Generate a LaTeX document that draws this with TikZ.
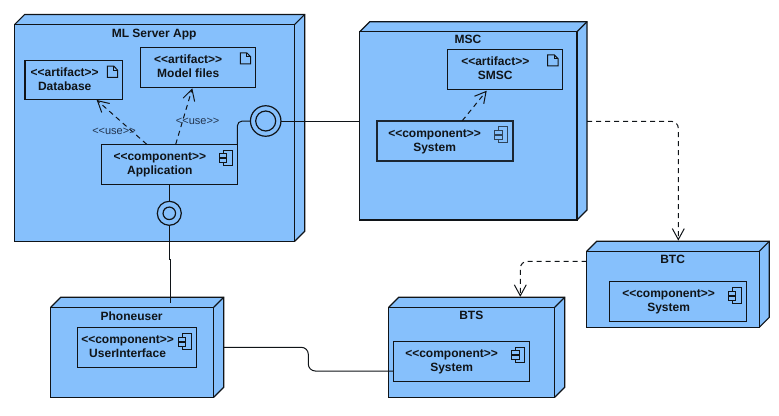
\documentclass[tikz,border=0pt]{standalone}
\usepackage{fontspec}
\setmainfont{Liberation Sans}
\usetikzlibrary{arrows.meta}
\definecolor{nodeblue}{HTML}{86C0FC}
\definecolor{ink}{HTML}{101418}
\definecolor{usecol}{HTML}{22344E}
\tikzset{
  every node/.style={inner sep=0pt,outer sep=0pt},
  line/.style={draw=ink,line width=1.2pt},
  nodebox/.style={line,fill=nodeblue,rectangle},
  innerbox/.style={line,rectangle},
  title/.style={text=ink,align=center,yshift=-1.7pt,xshift=.3pt,font=\fontsize{12}{14}\selectfont\bfseries},
  uselabel/.style={text=usecol,yshift=-1pt,font=\fontsize{11}{13}\selectfont},
  conn/.style={draw=ink,line width=1pt},
  dep/.style={conn,dash pattern=on 5pt off 4pt,-{Straight Barb[length=11pt,width=12pt,line width=1pt]}},
  lolli/.style={circle,line,fill=nodeblue}
}
% name x1 y1 x2 y2 : front face of a 3D node
\newcommand{\solidnode}[5]{%
  \fill[nodeblue] (#2,#3) -- (#2+10,#3-10) -- (#4+10,#3-10) -- (#4+10,#5-10) -- (#4,#5) -- (#2,#5) -- cycle;
  \draw[line] (#2,#3) -- (#2+10,#3-10) -- (#4+10,#3-10) -- (#4+10,#5-10) -- (#4,#5);
  \draw[line] (#4,#3) -- (#4+10,#3-10);
  \node[nodebox,minimum width={(#4-#2)*1pt},minimum height={(#5-#3)*1pt}] (#1) at ({(#2+#4)/2},{(#3+#5)/2}) {};
}
\newcommand{\innerrect}[6][]{%
  \node[innerbox,#1,minimum width={(#5-#3)*1pt},minimum height={(#6-#4)*1pt}] (#2) at ({(#3+#5)/2},{(#4+#6)/2}) {};
}
\newcommand{\fileicon}[1]{%
  \draw[draw=ink,line width=1pt,fill=nodeblue,shift={(#1.north east)}]
    (-15,5.5) -- (-8.5,5.5) -- (-4.6,9.5) -- (-4.6,16.6) -- (-15,16.6) -- cycle;
  \draw[draw=ink,line width=.8pt,shift={(#1.north east)}] (-8.5,5.5) -- (-8.5,9.5) -- (-4.6,9.5);
}
\newcommand{\compicon}[2][ink]{%
  \begin{scope}[shift={(#2.north east)}]
  \draw[draw=#1,line width=1pt] (-14,6.2) rectangle (-5,21.4);
  \draw[draw=#1,line width=1pt,fill=nodeblue] (-18,9.6) rectangle (-10.5,13.6);
  \draw[draw=#1,line width=1pt,fill=nodeblue] (-18,14.4) rectangle (-10.5,18.4);
  \end{scope}
}
\begin{document}
\begin{tikzpicture}[x=1pt,y=-1pt]
\useasboundingbox (0,0) rectangle (779,415);

\solidnode{ml}{14.7}{24.4}{294.7}{241.3}
\solidnode{msc}{359.7}{31.7}{577}{220}
\solidnode{btc}{586.7}{251.3}{759.3}{327.3}
\solidnode{phone}{50.7}{307.3}{213.7}{397.3}
\solidnode{bts}{388.7}{307.3}{554.7}{397.3}

\node[title] (mlT) at (153.8,32.7) {ML Server App};
\node[title] (mscT) at (467.7,37.8) {MSC};
\node[title] (btcT) at (672.3,257.8) {BTC};
\node[title] (phoneT) at (131.3,314.4) {Phoneuser};
\node[title] (btsT) at (471,313.8) {BTS};

\innerrect{db}{25}{60.7}{122.3}{99.3}
\innerrect{mf}{140.3}{47.3}{255.3}{87.3}
\innerrect{app}{101.3}{144.3}{237.3}{184.3}
\innerrect{smsc}{447.3}{49.3}{562.7}{89.3}
\innerrect[line width=2pt,draw=black!80!nodeblue]{sys1}{376.7}{120.7}{512.7}{161}
\innerrect{sys2}{609.7}{281.7}{746.3}{321.3}
\innerrect{ui}{77.7}{327.7}{196.3}{367.3}
\innerrect{sys3}{393.3}{341.3}{529.7}{381.3}

\node[title] (dbT) at (64.4,77.9) {<{}<artifact>{}>\\Database};
\node[title] (mfT) at (187.9,64.9) {<{}<artifact>{}>\\Model files};
\node[title] (appT) at (159.6,162.7) {<{}<component>{}>\\Application};
\node[title] (smscT) at (495,66.9) {<{}<artifact>{}>\\SMSC};
\node[title] (sys1T) at (434.3,139.7) {<{}<component>{}>\\System};
\node[title] (sys2T) at (668.3,299.7) {<{}<component>{}>\\System};
\node[title] (uiT) at (127.3,344.9) {<{}<component>{}>\\UserInterface};
\node[title] (sys3T) at (451.3,359.7) {<{}<component>{}>\\System};

\fileicon{db}
\fileicon{mf}
\fileicon{smsc}
\compicon{app}
\compicon[black!65!nodeblue]{sys1}
\compicon{sys2}
\compicon{ui}
\compicon{sys3}

% lollipops
\node[lolli,minimum size=24pt] (lolB) at (169.3,213.3) {};
\node[circle,line,minimum size=12.5pt] (lolBi) at (169.3,213.3) {};
\node[lolli,minimum size=30.5pt] (lolR) at (265.7,121) {};
\node[circle,line,minimum size=20pt] (lolRi) at (265.7,121) {};

% free ends of the connectors
\coordinate (u1) at (146.7,144.3);
\coordinate (u1t) at (96.7,100);
\coordinate (u2) at (175.7,144.3);
\coordinate (u2t) at (192.3,88.3);
\coordinate (u3) at (462.3,120.7);
\coordinate (u3t) at (486.7,90.7);
\coordinate (pj) at (170.5,259);
\coordinate (pe) at (170.5,303.3);
\coordinate (po) at (223.5,347.3);
\coordinate (cA) at (308.3,347.3);
\coordinate (cB) at (308.3,371);
\coordinate (mo) at (587,121.3);
\coordinate (mt) at (678.3,240.6);
\coordinate (bo) at (586.7,261.3);
\coordinate (bt) at (520.3,296.8);

% solid connectors
\draw[conn,rounded corners=5pt] (app.north east) |- (lolR.west);
\draw[conn] (lolR.east) -- (msc.west |- lolR.east);
\draw[conn] (app.south -| lolB) -- (lolB.north);
\draw[conn] (lolB.south) -- (lolB.south |- pj) -- (pj) -- (pe);
\draw[conn,rounded corners=7pt] (po) -- (cA) -- (cB) -- (sys3.west |- cB);

% dependencies
\draw[dep] (u1) -- (u1t);
\draw[dep] (u2) -- (u2t);
\draw[dep] (u3) -- (u3t);
\draw[dep,rounded corners=7pt] (mo) -| (mt);
\draw[dep,rounded corners=7pt] (bo) -| (bt);

\node[uselabel] (use1) at (114,130) {<{}<use>{}>};
\node[uselabel] (use2) at (197.7,120.7) {<{}<use>{}>};
\end{tikzpicture}
\end{document}
